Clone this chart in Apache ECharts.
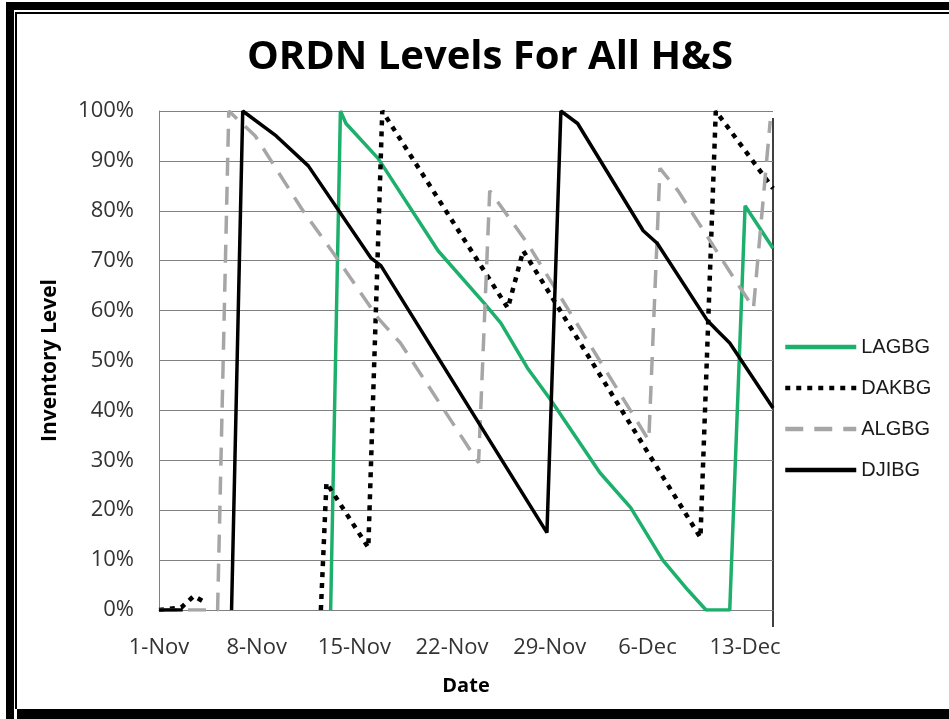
<!DOCTYPE html>
<html><head><meta charset="utf-8">
<script src="https://cdn.jsdelivr.net/npm/echarts@6/dist/echarts.min.js"></script>
<style>html,body{margin:0;padding:0;background:#fff}#c{width:949px;height:719px}</style>
</head><body><div id="c"></div>
<script>
// x values are days since 1-Nov; null y = gap in the series
const xTickLabels = ['1-Nov','8-Nov','15-Nov','22-Nov','29-Nov','6-Dec','13-Dec'];
const yTickLabels = ['0%','10%','20%','30%','40%','50%','60%','70%','80%','90%','100%'];
const seriesNames = ['LAGBG','DAKBG','ALGBG','DJIBG'];

const lagbgX = [12.3,13.0,13.4,15.7,20.0,23.3,24.5,26.4,28.1,31.6,33.8,36.1,37.9,39.2,40.9,42.0,44.0];
const lagbgY = [0,100,97.5,90.5,72,61.5,57.5,48.5,42,27.5,20.5,10,4,0,0,81,72.5];

const dakbgX = [0,1.6,2.5,3.3,3.4,11.6,12.0,15.0,16.0,25.0,26.1,38.8,39.9,44.0];
const dakbgY = [0,0.5,2.8,1.5,null,0,25.5,12.5,100,60.5,72,14.5,100,84.5];

const algbgX = [0,4.2,5.0,6.9,10.2,12.5,15.7,17.3,22.9,23.7,26.4,35.1,35.9,37.2,41.2,42.6,43.8];
const algbgY = [0,0,100,95,80.5,71.5,58.5,53.5,29.5,84,73.5,34,88.5,84,66.5,60.5,98];

const djibgX = [0,1.7,1.8,5.2,6.0,8.4,10.7,15.2,15.9,27.8,28.8,30.0,34.7,35.7,39.3,40.0,40.9,44.0];
const djibgY = [0,0,null,0,100,95,89,70.5,69,15.5,100,97.5,76,73.5,58,56,53.5,40.5];

function zip(xs, ys){ return xs.map((x,i)=>[x, ys[i]]); }

const chart = echarts.init(document.getElementById('c'), null, {renderer:'canvas'});
const lineCommon = {type:'line', symbol:'none', connectNulls:false, animation:false};
chart.setOption({
  backgroundColor:'#ffffff',
  animation:false,
  title:{
    text:'ORDN Levels For All H&S', left:485, top:33, textAlign:'center',
    textStyle:{fontFamily:'Open Sans', fontWeight:'bold', fontSize:40, color:'#000'}
  },
  grid:{left:159, right:176, top:111, bottom:109, containLabel:false},
  legend:{
    orient:'vertical', left:783, top:337, padding:0, itemWidth:71, itemHeight:14, itemGap:21,
    textStyle:{fontFamily:'Liberation Sans', fontSize:20, color:'#1a1a1a'},
    itemStyle:{opacity:0, borderWidth:0},
    lineStyle:{width:4.5},
    data:seriesNames
  },
  xAxis:{
    type:'value', min:0, max:44, interval:7,
    name:'Date', nameLocation:'middle', nameGap:66,
    nameTextStyle:{fontFamily:'Open Sans', fontWeight:'bold', fontSize:20, color:'#000'},
    axisLine:{show:true, lineStyle:{color:'#808080', width:1}},
    axisTick:{show:false},
    splitLine:{show:false},
    axisLabel:{
      margin:27, fontFamily:'Open Sans', fontSize:22, color:'#333',
      showMaxLabel:false,
      formatter:function(v){ return (v % 7 === 0) ? xTickLabels[v/7] : ''; }
    }
  },
  yAxis:{
    type:'value', min:0, max:100, interval:10,
    name:'Inventory Level', nameLocation:'middle', nameGap:98, nameRotate:90,
    nameTextStyle:{fontFamily:'Open Sans', fontWeight:'bold', fontSize:21, color:'#000'},
    axisLine:{show:true, lineStyle:{color:'#808080', width:1}},
    axisTick:{show:false},
    splitLine:{show:true, lineStyle:{color:'#808080', width:1}},
    axisLabel:{
      margin:25, fontFamily:'Open Sans', fontSize:22, color:'#333',
      formatter:function(v){ return yTickLabels[Math.round(v/10)]; }
    }
  },
  series:[
    Object.assign({}, lineCommon, {name:'LAGBG', data:zip(lagbgX,lagbgY), itemStyle:{color:'#1db06c'},
      lineStyle:{color:'#1db06c', width:3.5, type:'solid'}}),
    Object.assign({}, lineCommon, {name:'DAKBG', data:zip(dakbgX,dakbgY), itemStyle:{color:'#000'},
      lineStyle:{color:'#000', width:4.5, type:[5,6], cap:'butt'}}),
    Object.assign({}, lineCommon, {name:'ALGBG', data:zip(algbgX,algbgY), itemStyle:{color:'#a6a6a6'},
      lineStyle:{color:'#a6a6a6', width:3.5, type:[18,11], cap:'butt'}}),
    Object.assign({}, lineCommon, {name:'DJIBG', data:zip(djibgX,djibgY), itemStyle:{color:'#000'},
      lineStyle:{color:'#000', width:3.5, type:'solid'}})
  ],
  graphic:[
    {type:'rect', shape:{x:6, y:2, width:943, height:8}, style:{fill:'#000'}, silent:true},
    {type:'rect', shape:{x:6, y:2, width:8, height:717}, style:{fill:'#000'}, silent:true},
    {type:'rect', shape:{x:17, y:709, width:932, height:10}, style:{fill:'#000'}, silent:true},
    {type:'rect', shape:{x:15, y:12, width:934, height:2}, style:{fill:'#000'}, silent:true},
    {type:'rect', shape:{x:15, y:12, width:2, height:697}, style:{fill:'#000'}, silent:true},
    {type:'line', shape:{x1:773, y1:118, x2:773, y2:627}, style:{stroke:'#000', lineWidth:1.5}, silent:true}
  ]
});
</script></body></html>
